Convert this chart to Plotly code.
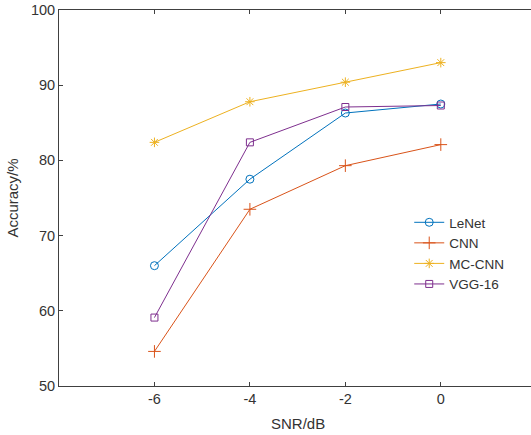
import plotly.graph_objects as go

snr = [-6, -4, -2, 0]
lenet = [66.0, 77.5, 86.3, 87.5]
cnn = [54.6, 73.5, 79.3, 82.1]
mccnn = [82.4, 87.8, 90.4, 93.0]
vgg16 = [59.1, 82.4, 87.1, 87.3]

series = [
    ("LeNet", lenet, "#0072BD", "circle-open", 8),
    ("CNN", cnn, "#D95319", "cross-thin-open", 9),
    ("MC-CNN", mccnn, "#EDB120", "asterisk-open", 8),
    ("VGG-16", vgg16, "#7E2F8E", "square-open", 7),
]

fig = go.Figure()
for name, vals, color, sym, size in series:
    fig.add_trace(go.Scatter(
        x=snr, y=vals, name=name, mode="lines+markers",
        line=dict(color=color, width=1),
        marker=dict(symbol=sym, size=size, color=color, line=dict(width=1, color=color)),
    ))

axis_color = "#404040"
family = "Liberation Sans, Arial, sans-serif"
tick_font = dict(family=family, size=14.5, color="#333333")
title_font = dict(family=family, size=15, color="#333333")

fig.update_layout(
    width=531, height=435,
    margin=dict(l=59, r=0, t=10, b=49),
    paper_bgcolor="white", plot_bgcolor="white",
    font=tick_font,
    showlegend=True,
    legend=dict(x=0.742, y=0.476, xanchor="left", yanchor="top",
                bgcolor="rgba(0,0,0,0)", borderwidth=0,
                font=dict(family=family, size=13.5, color="#333333"),
                tracegroupgap=0, itemwidth=30),
    xaxis=dict(range=[-8, 1.89], tickvals=snr, ticktext=["-6", "-4", "-2", "0"],
               showgrid=False, zeroline=False, showline=True, linecolor=axis_color,
               linewidth=1, mirror="ticks", ticks="inside", ticklen=4,
               tickcolor=axis_color, tickfont=tick_font),
    yaxis=dict(range=[50, 100], tickvals=[50, 60, 70, 80, 90, 100],
               showgrid=False, zeroline=False, showline=True, linecolor=axis_color,
               linewidth=1, mirror=False, ticks="inside", ticklen=4,
               tickcolor=axis_color, tickfont=tick_font,
               title=dict(text="Accuracy/%", font=title_font, standoff=8)),
    annotations=[dict(text="SNR/dB", x=-3, xref="x", y=-0.072, yref="paper",
                      yanchor="top", showarrow=False, font=title_font)],
)

fig.write_html("out.html", config={"displayModeBar": False},
               post_script="document.body.style.margin='0';document.body.style.overflow='hidden';")
